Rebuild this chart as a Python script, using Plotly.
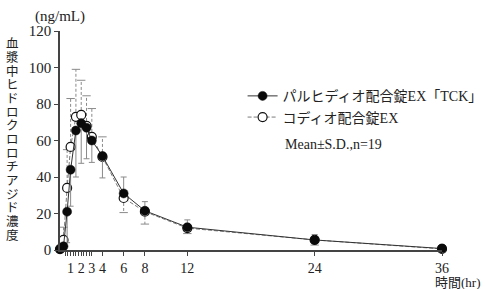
import plotly.graph_objects as go

# ---- data ----
time_hr = [0, 0.33, 0.67, 1, 1.5, 2, 2.5, 3, 4, 6, 8, 12, 24, 36]
tck_mean = [0.5, 2.0, 21.0, 44.0, 65.5, 69.5, 67.0, 60.0, 51.5, 31.0, 21.5, 12.5, 5.5, 0.8]
tck_sd = [0.3, 1.0, 17.0, 20.0, 25.5, 22.0, 17.0, 12.0, 12.0, 9.0, 5.0, 4.0, 3.0, 1.0]
codio_mean = [0.5, 5.5, 34.0, 56.5, 73.0, 74.0, 68.0, 62.0, 51.0, 28.5, 21.0, 12.0, 5.5, 0.6]
codio_sd = [0.3, 7.0, 21.0, 26.5, 26.0, 19.0, 16.5, 15.5, 11.0, 8.0, 6.8, 3.0, 2.8, 0.5]

tick_vals_major = [1, 2, 3, 4, 6, 8, 12, 24, 36]
tick_vals_minor = [0.5, 0.75, 1.25, 1.5, 1.75, 2.25, 2.5, 2.75]
y_ticks = [0, 20, 40, 60, 80, 100, 120]

name_tck = "パルヒディオ配合錠EX「TCK」"
name_codio = "コディオ配合錠EX"
stat_note = "Mean±S.D.,n=19"
y_title = "血漿中ヒドロクロロチアジド濃度"
y_unit = "(ng/mL)"
x_title = "時間(hr)"

FONT = "Liberation Serif, Noto Sans CJK JP, serif"
SPLIT_T = 4  # error bars drawn below before, above after (as in the reference)

# filled series: lower SD early, upper SD late
tck_plus = [sd if t > SPLIT_T else 0 for t, sd in zip(time_hr, tck_sd)]
tck_minus = [sd if t <= SPLIT_T else 0 for t, sd in zip(time_hr, tck_sd)]

# open series: upper SD early, lower SD late (dashed stems)
stem_x, stem_y, cap_x, cap_y = [], [], [], []
for t, m, sd in zip(time_hr, codio_mean, codio_sd):
    end = m + sd if t <= SPLIT_T else m - sd
    stem_x += [t, t, None]
    stem_y += [m, end, None]
    cap_x.append(t)
    cap_y.append(end)

fig = go.Figure()

fig.add_trace(go.Scatter(x=stem_x, y=stem_y, mode="lines", showlegend=False,
                         line=dict(color="#8a8a8a", width=1, dash="3px,2px"),
                         hoverinfo="skip", cliponaxis=False))
fig.add_trace(go.Scatter(x=cap_x, y=cap_y, mode="markers", showlegend=False,
                         marker=dict(symbol="line-ew", size=6,
                                     line=dict(color="#8a8a8a", width=1)),
                         hoverinfo="skip", cliponaxis=False))

fig.add_trace(go.Scatter(x=time_hr, y=codio_mean, mode="lines+markers", name=name_codio,
                         line=dict(color="#7a7a7a", width=1, dash="4px,2px"),
                         marker=dict(symbol="circle", size=9, color="white",
                                     line=dict(color="#111", width=1.2)),
                         cliponaxis=False, legendrank=2))

fig.add_trace(go.Scatter(x=time_hr, y=tck_mean, mode="lines+markers", name=name_tck,
                         line=dict(color="#333", width=1),
                         marker=dict(symbol="circle", size=9, color="#0a0a0a",
                                     line=dict(color="#0a0a0a", width=0.5)),
                         error_y=dict(type="data", symmetric=False, array=tck_plus,
                                      arrayminus=tck_minus, color="#8a8a8a",
                                      thickness=1, width=3),
                         cliponaxis=False, legendrank=1))

fig.update_layout(
    width=485, height=289,
    margin=dict(l=60, r=43, t=31, b=39, autoexpand=False),
    paper_bgcolor="white", plot_bgcolor="white",
    font=dict(family=FONT, size=14, color="#222"),
    showlegend=True,
    legend=dict(x=0.478, y=0.775, xanchor="left", yanchor="top",
                font=dict(family=FONT, size=14, color="#222"),
                bgcolor="rgba(0,0,0,0)", tracegroupgap=5, itemwidth=30,
                traceorder="normal"),
    xaxis=dict(range=[0, 36], showgrid=False, zeroline=False,
               showline=True, linecolor="#444", linewidth=1.5,
               tickmode="array",
               tickvals=tick_vals_major + tick_vals_minor,
               ticktext=[str(v) for v in tick_vals_major] + [""] * len(tick_vals_minor),
               ticks="outside", ticklen=4, tickcolor="#444", tickwidth=1,
               tickfont=dict(family=FONT, size=14, color="#222")),
    yaxis=dict(range=[0, 120], showgrid=False, zeroline=False,
               showline=True, linecolor="#444", linewidth=1.5,
               tickvals=y_ticks, ticks="outside", ticklen=4, tickcolor="#444",
               tickfont=dict(family=FONT, size=15, color="#222")),
)

# legend note line
fig.add_annotation(text=stat_note, xref="paper", yref="paper", x=0.584, y=0.484,
                   xanchor="left", yanchor="middle", showarrow=False,
                   font=dict(family=FONT, size=14, color="#222"))
# unit at top
fig.add_annotation(text=y_unit, xref="paper", yref="paper", x=0.0, y=1.0,
                   xanchor="center", yanchor="bottom", yshift=4, showarrow=False,
                   font=dict(family=FONT, size=15, color="#222"))
# x title
fig.add_annotation(text=x_title, xref="paper", yref="paper", x=1.107, y=-0.148,
                   xanchor="right", yanchor="middle", showarrow=False,
                   font=dict(family=FONT, size=13, color="#222"))
# vertical y title, one character per line
for i, ch in enumerate(y_title):
    fig.add_annotation(text=ch, xref="paper", yref="paper", x=-0.125,
                       y=1 - (13 + i * 13.7) / 219, xanchor="center", yanchor="middle",
                       showarrow=False, font=dict(family=FONT, size=12.5, color="#222"))

fig.write_html("out.html")
